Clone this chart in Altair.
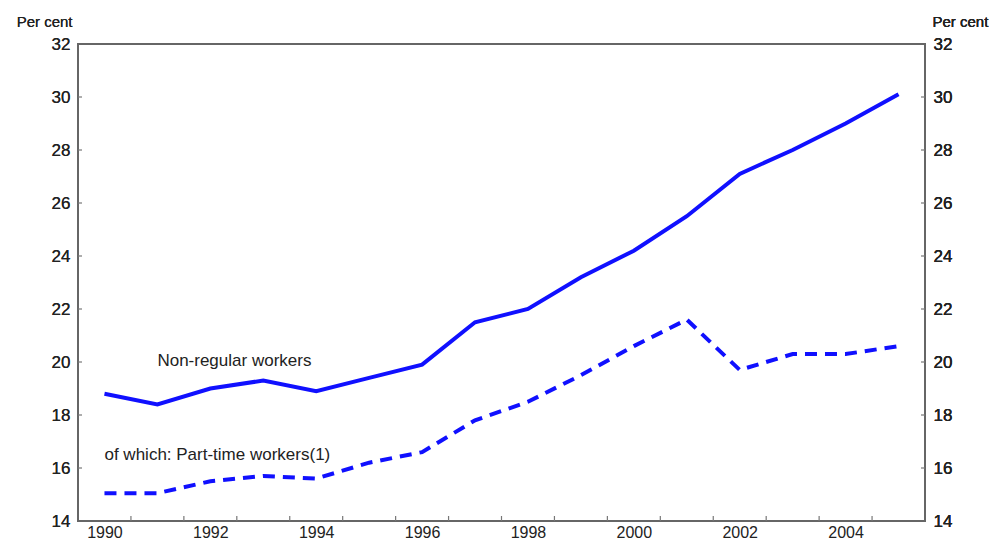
import altair as alt
import pandas as pd

years = list(range(1990, 2006))
non_regular = [18.8, 18.4, 19.0, 19.3, 18.9, 19.4, 19.9, 21.5, 22.0, 23.2, 24.2, 25.5, 27.1, 28.0, 29.0, 30.1]
part_time = [15.05, 15.05, 15.5, 15.7, 15.6, 16.2, 16.6, 17.8, 18.5, 19.5, 20.6, 21.6, 19.7, 20.3, 20.3, 20.6]

x_label_years = [1990, 1992, 1994, 1996, 1998, 2000, 2002, 2004]
x_tick_positions = [y + 0.5 for y in range(1990, 2005)]
y_ticks = [14, 16, 18, 20, 22, 24, 26, 28, 30, 32]
y_inner_ticks = [16, 18, 20, 22, 24, 26, 28, 30]

label_texts = ["Non-regular workers", "of which: Part-time workers(1)"]
label_x = [1991.0, 1990.0]
label_y = [20.05, 16.5]

X_DOMAIN = [1989.5, 2005.5]
Y_DOMAIN = [14, 32]
BLUE = "#1010ff"
FONT = "Liberation Sans"

df_nr = pd.DataFrame({"year": years, "value": non_regular})
df_pt = pd.DataFrame({"year": years, "value": part_time})
df_lab = pd.DataFrame({"text": label_texts, "x": label_x, "y": label_y})

xscale = alt.Scale(domain=X_DOMAIN, nice=False, zero=False)
yscale = alt.Scale(domain=Y_DOMAIN, nice=False, zero=False)

x_axis = alt.Axis(values=x_label_years, format="d", ticks=False, grid=False,
                  labelFontSize=16, labelPadding=3, labelColor="#222",
                  labelFont=FONT, domain=False, title=None)

left_axis = alt.Axis(values=y_ticks, orient="left", ticks=False, grid=False,
                     labelFontSize=17, labelPadding=8, labelColor="#222",
                     labelFont=FONT, domain=False,
                     title="Per cent", titleAngle=0, titleAlign="right",
                     titleBaseline="alphabetic", titleX=-6, titleY=-18,
                     titleFontSize=15, titleFontWeight=400,
                     titleFont=FONT, titleColor="#222")
right_axis = alt.Axis(values=y_ticks, orient="right", ticks=False, grid=False,
                      labelFontSize=17, labelPadding=8, labelColor="#222",
                      labelFont=FONT, domain=False,
                      title="Per cent", titleAngle=0, titleAlign="left",
                      titleBaseline="alphabetic", titleX=7, titleY=-18,
                      titleFontSize=15, titleFontWeight=400,
                      titleFont=FONT, titleColor="#222")

X = alt.X("year:Q", scale=xscale, axis=x_axis)

line_nr = alt.Chart(df_nr).mark_line(color=BLUE, strokeWidth=4).encode(
    x=X,
    y=alt.Y("value:Q", scale=yscale, axis=left_axis),
)
line_pt = alt.Chart(df_pt).mark_line(color=BLUE, strokeWidth=4, strokeDash=[12, 8]).encode(
    x=X,
    y=alt.Y("value:Q", scale=yscale, axis=right_axis),
)

labels = alt.Chart(df_lab).mark_text(align="left", baseline="middle", fontSize=17,
                                     font=FONT, color="#222").encode(
    x=alt.X("x:Q", scale=xscale, axis=x_axis),
    y=alt.Y("y:Q", scale=yscale, axis=right_axis),
    text="text:N",
)

# inward tick marks
df_xt = pd.DataFrame({"x": x_tick_positions})
xticks = alt.Chart(df_xt).mark_rule(color="#777", strokeWidth=1.2).encode(
    x=alt.X("x:Q", scale=xscale, axis=x_axis),
    y=alt.YValue(477),
    y2=alt.Y2Value(472),
)
df_yt = pd.DataFrame({"y": y_inner_ticks})
yticks_l = alt.Chart(df_yt).mark_rule(color="#777", strokeWidth=1.2).encode(
    y=alt.Y("y:Q", scale=yscale, axis=left_axis),
    x=alt.XValue(0),
    x2=alt.X2Value(4),
)
yticks_r = alt.Chart(df_yt).mark_rule(color="#777", strokeWidth=1.2).encode(
    y=alt.Y("y:Q", scale=yscale, axis=right_axis),
    x=alt.XValue(843),
    x2=alt.X2Value(847),
)

chart = alt.layer(line_nr, line_pt, labels, xticks, yticks_l, yticks_r).resolve_axis(
    y="independent"
).properties(
    width=847, height=477,
    autosize=alt.AutoSizeParams(type="none"),
    padding={"left": 70, "top": 36, "right": 64, "bottom": 19},
    background="white",
).configure_view(
    stroke="#666", strokeWidth=2
)

chart.save("out.html", embed_options={"renderer": "svg", "actions": False})
